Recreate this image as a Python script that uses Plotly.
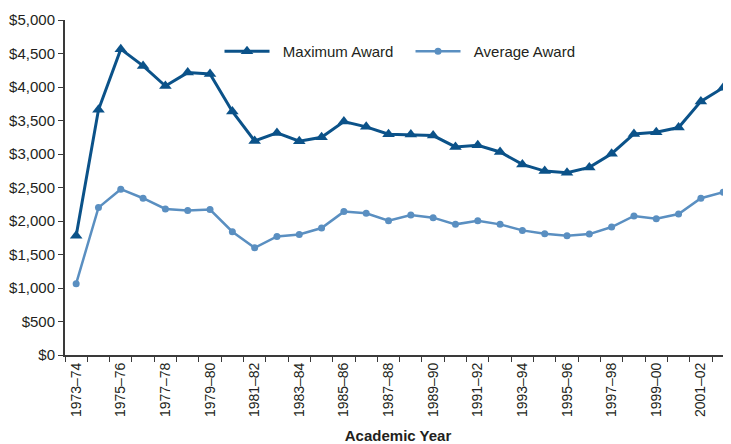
import plotly.graph_objects as go

# Academic years, 1973-74 through 2002-03
years = ['1973–74', '1974–75', '1975–76', '1976–77', '1977–78', '1978–79',
         '1979–80', '1980–81', '1981–82', '1982–83', '1983–84', '1984–85',
         '1985–86', '1986–87', '1987–88', '1988–89', '1989–90', '1990–91',
         '1991–92', '1992–93', '1993–94', '1994–95', '1995–96', '1996–97',
         '1997–98', '1998–99', '1999–00', '2000–01', '2001–02', '2002–03']

# Award values in dollars
max_award = [1780, 3660, 4565, 4315, 4015, 4215, 4195, 3635, 3195, 3315,
             3190, 3250, 3485, 3405, 3295, 3290, 3275, 3105, 3130, 3030,
             2845, 2745, 2720, 2800, 3005, 3300, 3325, 3395, 3785, 3990]
avg_award = [1065, 2200, 2475, 2340, 2180, 2155, 2170, 1840, 1600, 1770,
             1800, 1895, 2140, 2115, 2005, 2090, 2050, 1950, 2005, 1950,
             1860, 1810, 1780, 1805, 1910, 2075, 2035, 2105, 2340, 2430]

y_ticks = [0, 500, 1000, 1500, 2000, 2500, 3000, 3500, 4000, 4500, 5000]
y_labels = ['${:,}'.format(v) for v in y_ticks]

font_name = 'Liberation Sans, Arial, sans-serif'
text_color = '#231f20'
axis_color = '#3a3a3a'
pad = '\u00a0\u00a0'  # a little extra room between legend line and label

fig = go.Figure()

fig.add_trace(go.Scatter(
    x=years, y=max_award, mode='lines+markers', name=pad + 'Maximum Award',
    line=dict(color='#0b5289', width=3),
    marker=dict(symbol='triangle-up', size=11, color='#0b5289'),
    cliponaxis=False,
))

fig.add_trace(go.Scatter(
    x=years, y=avg_award, mode='lines+markers', name=pad + 'Average Award',
    line=dict(color='#5a8fc1', width=2.5),
    marker=dict(symbol='circle', size=7, color='#5a8fc1'),
    cliponaxis=False,
))

# page body has an 8px margin, so the figure is sized/offset to compensate
fig.update_layout(
    width=723, height=436,
    margin=dict(l=57, r=0, t=12, b=89),
    paper_bgcolor='white', plot_bgcolor='white',
    font=dict(family=font_name, size=14, color=text_color),
    showlegend=True,
    legend=dict(
        orientation='h', x=0.232, y=0.955, xanchor='left', yanchor='top',
        bgcolor='rgba(0,0,0,0)', font=dict(size=15, color=text_color),
        itemwidth=45, tracegroupgap=0, entrywidthmode='pixels', entrywidth=131,
    ),
    xaxis=dict(
        type='category',
        range=[-0.5, 29.35],
        tickvals=years,
        ticktext=[y if i % 2 == 0 else '' for i, y in enumerate(years)],
        tickangle=-90,
        tickson='boundaries',
        ticks='outside', ticklen=5, tickcolor=axis_color, tickwidth=1,
        showline=True, linecolor=axis_color, linewidth=2,
        showgrid=False, zeroline=False,
        automargin=False,
        tickfont=dict(size=14, color=text_color),
        title=dict(text='<b>Academic Year</b>', font=dict(size=15, color=text_color),
                   standoff=16),
    ),
    yaxis=dict(
        range=[0, 5000],
        tickvals=y_ticks,
        ticktext=y_labels,
        ticks='outside', ticklen=5, tickcolor=axis_color, tickwidth=1,
        showline=True, linecolor=axis_color, linewidth=2,
        showgrid=False, zeroline=False,
        automargin=False,
        tickfont=dict(size=15, color=text_color),
    ),
)

fig.write_html("out.html")
